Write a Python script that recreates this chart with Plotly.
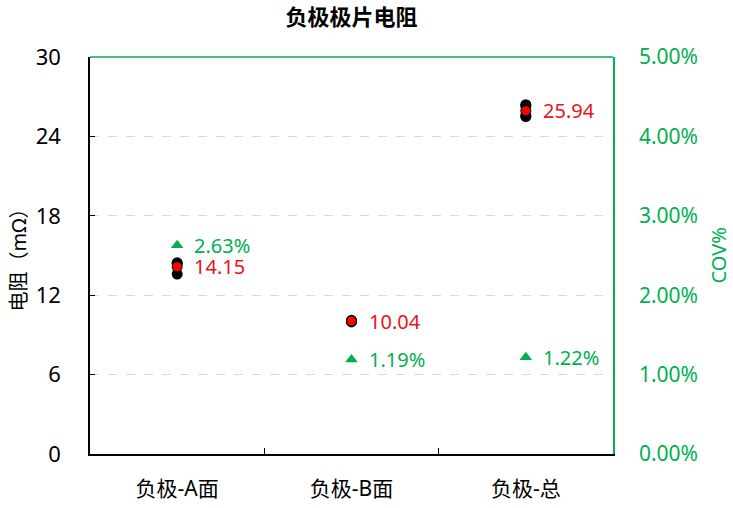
import plotly.graph_objects as go

categories = ["负极-A面", "负极-B面", "负极-总"]
samples_A = [14.45, 14.40, 13.60]
samples_B = [10.10, 9.98, 10.04]
samples_T = [26.40, 26.30, 25.50, 25.56]
averages = [14.15, 10.04, 25.94]
cov = [0.0263, 0.0119, 0.0122]
y_ticks = [0, 6, 12, 18, 24, 30]
cov_ticks = [0, 0.01, 0.02, 0.03, 0.04, 0.05]

GREEN = "#00B050"
RED = "#FF0000"
LABEL_RED = "#E8141B"
FONT = "Noto Sans, Noto Sans CJK SC, sans-serif"
FS = 21

fig = go.Figure()

sample_x = [categories[0]] * len(samples_A) + [categories[1]] * len(samples_B) + [categories[2]] * len(samples_T)
sample_y = samples_A + samples_B + samples_T
fig.add_trace(go.Scatter(x=sample_x, y=sample_y, mode="markers",
                         marker=dict(symbol="circle", size=11, color="black"),
                         showlegend=False, hoverinfo="skip"))
fig.add_trace(go.Scatter(x=categories, y=averages, mode="markers",
                         marker=dict(symbol="circle", size=10, color=RED,
                                     line=dict(color="black", width=1)),
                         showlegend=False))
fig.add_trace(go.Scatter(x=categories, y=cov, mode="markers", yaxis="y2",
                         marker=dict(symbol="triangle-up", size=11, color=GREEN),
                         showlegend=False))

for c, v in zip(categories, averages):
    fig.add_annotation(x=c, y=v, text=f"{v:.2f}", showarrow=False, xanchor="left",
                       yanchor="middle", xshift=15, font=dict(color=LABEL_RED, size=FS - 1, family=FONT))
for c, v in zip(categories, cov):
    fig.add_annotation(x=c, y=v, yref="y2", text=f"{v*100:.2f}%", showarrow=False, xanchor="left",
                       yanchor="middle", xshift=15, font=dict(color=GREEN, size=FS - 1, family=FONT))

# axis titles
fig.add_annotation(text="电阻（mΩ）", xref="paper", yref="paper", x=0, y=0.5, xshift=-72,
                   xanchor="center", yanchor="middle",
                   textangle=-90, showarrow=False, font=dict(size=FS - 1, color="black", family=FONT))
fig.add_annotation(text="COV%", xref="paper", yref="paper", x=1, y=0.5, xshift=105,
                   xanchor="center", yanchor="middle",
                   textangle=-90, showarrow=False, font=dict(size=FS - 1, color=GREEN, family=FONT))

# top border (green)
fig.add_shape(type="line", xref="paper", yref="paper", x0=0, x1=1, y0=1, y1=1,
              line=dict(color=GREEN, width=1.5), layer="above")

fig.update_layout(
    width=733, height=508,
    margin=dict(l=90, r=120, t=57, b=54, autoexpand=False),
    paper_bgcolor="white", plot_bgcolor="white",
    font=dict(family=FONT, size=FS, color="black"),
    title=dict(text="<b>负极极片电阻</b>", x=0.5, xanchor="center", xref="paper",
               yref="container", y=1 - 17 / 508,
               yanchor="middle", font=dict(size=22, family=FONT, color="black")),
    xaxis=dict(type="category", categoryorder="array", categoryarray=categories,
               range=[-0.5, 2.5], showline=True, linecolor="black", linewidth=1.5,
               ticks="inside", tickson="boundaries", ticklen=6, tickcolor="black",
               showgrid=False, ticklabelstandoff=15, tickfont=dict(size=FS), automargin=False),
    yaxis=dict(range=[0, 30], tickvals=y_ticks, showline=True, linecolor="black", linewidth=1.5,
               ticks="inside", ticklen=5, tickcolor="black", zeroline=False,
               showgrid=True, gridcolor="#D9D9D9", griddash="dash", gridwidth=1,
               ticklabelstandoff=23, tickfont=dict(size=FS + 1), automargin=False),
    yaxis2=dict(range=[0, 0.05], tickvals=cov_ticks, tickformat=".2%", overlaying="y", side="right",
                showline=True, linecolor=GREEN, linewidth=1.5, ticks="", showgrid=False, zeroline=False,
                ticklabelstandoff=20, tickfont=dict(size=FS, color=GREEN), automargin=False),
)

fig.write_html("out.html", config={"displayModeBar": False},
               post_script="document.body.style.margin='0';")
